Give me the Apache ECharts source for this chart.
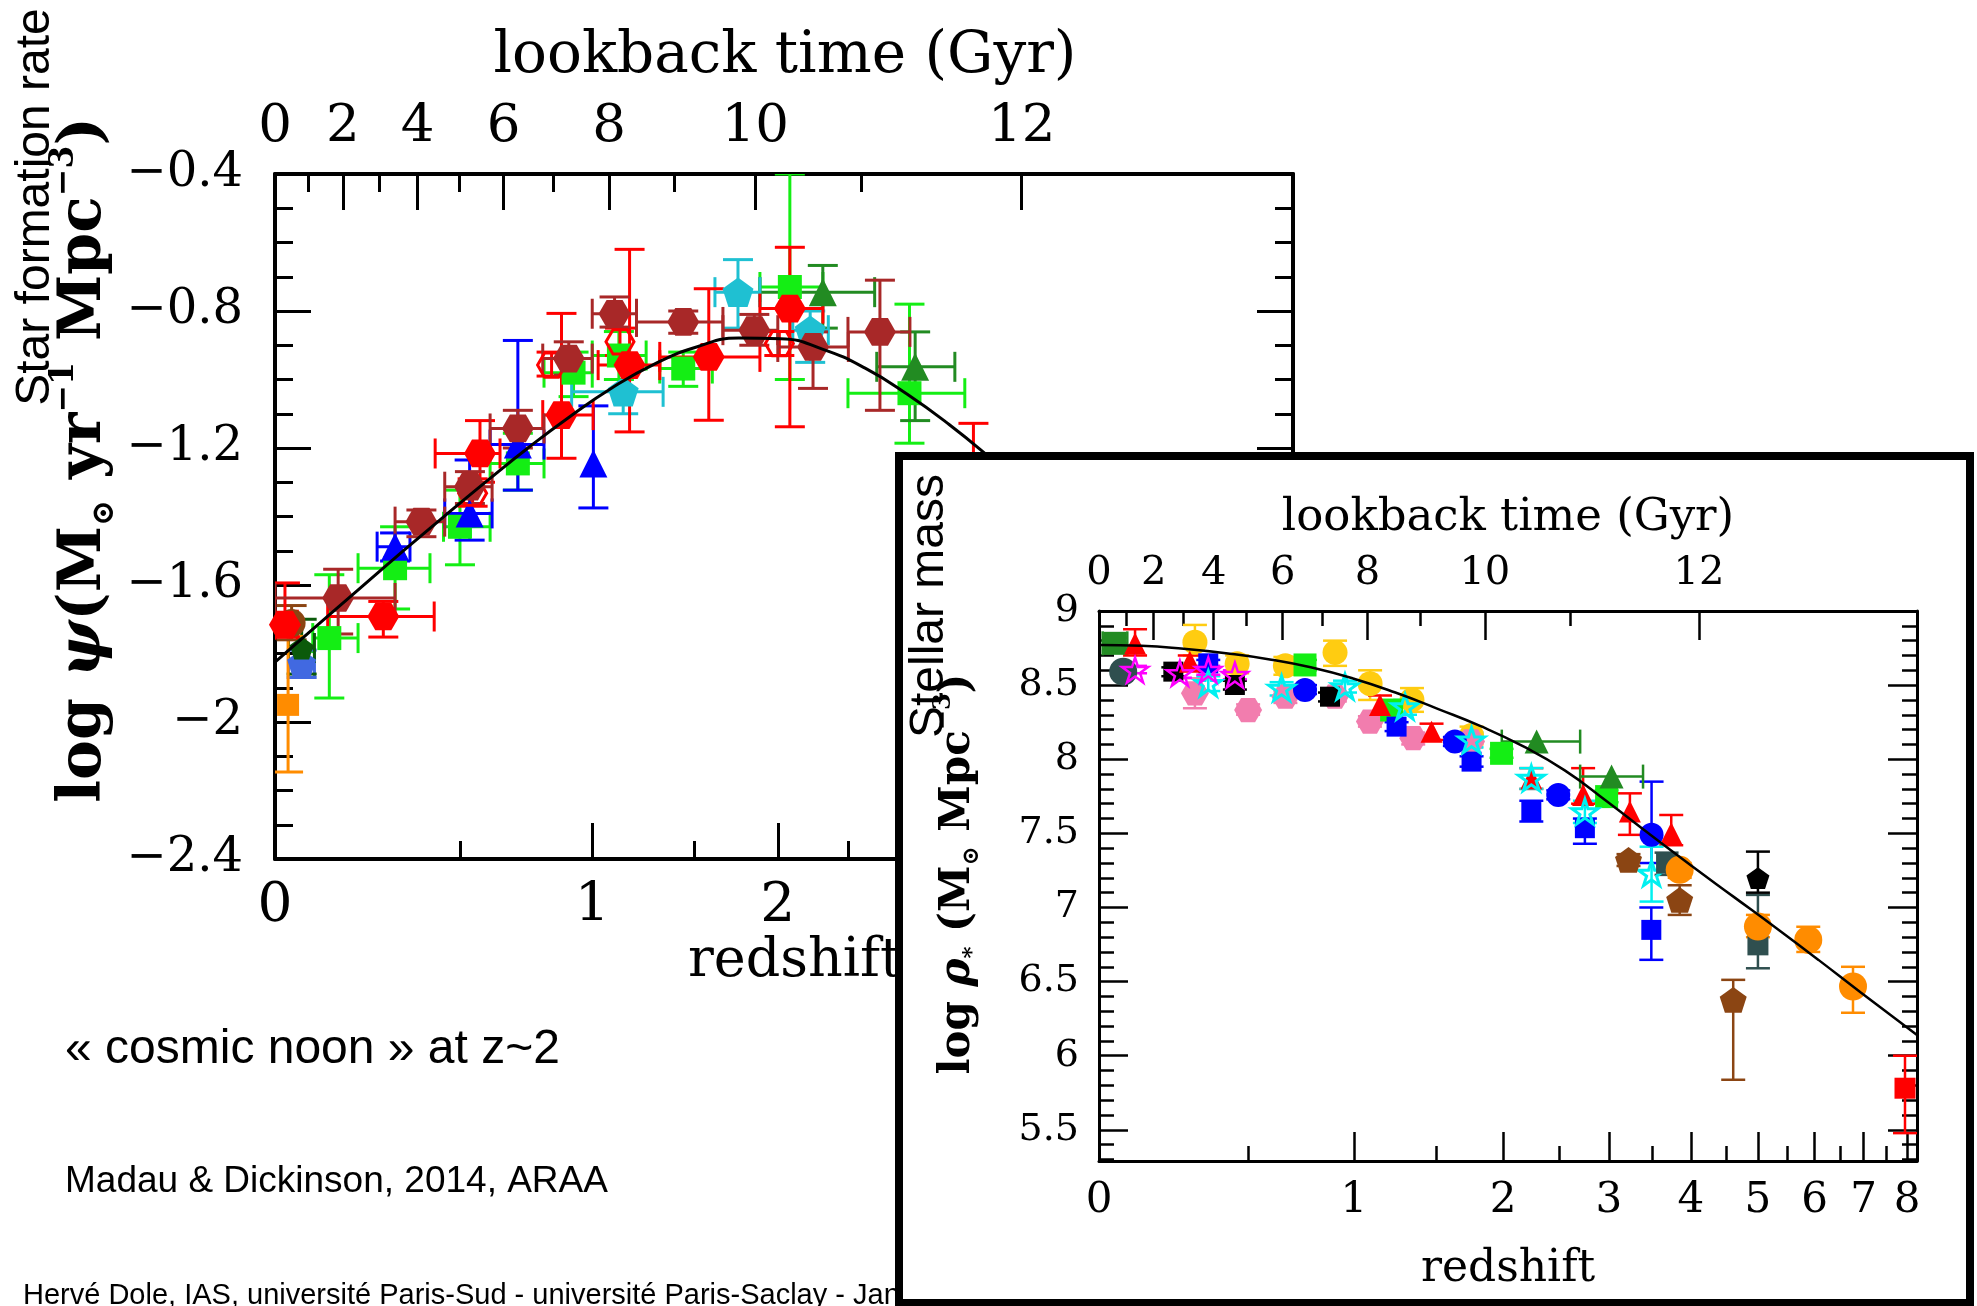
<!DOCTYPE html>
<html><head><meta charset="utf-8">
<script src="https://cdn.jsdelivr.net/npm/echarts@6/dist/echarts.min.js"></script>
<style>html,body{margin:0;padding:0;background:#fff}#c{width:1977px;height:1306px}</style>
</head><body><div id="c"></div>
<script>
// ================= DATA =================
// axis tick definitions
const redshiftLabels = [0, 1, 2, 3, 4, 5, 6, 7, 8];
const redshiftMajorTicks = [1, 2, 3, 4, 5, 6, 7, 8];
const redshiftMinorTicks = [0.5, 1.5, 2.5, 3.5, 4.5, 5.5, 6.5, 7.5];
const lookbackLabels = [0, 2, 4, 6, 8, 10, 12];
const lookbackMajorTicks = [2, 4, 6, 8, 10, 12];
const lookbackMinorTicks = [1, 3, 5, 7, 9, 11];
const sfrYLabels = [-2.4, -2, -1.6, -1.2, -0.8, -0.4];
const massYLabels = [5.5, 6, 6.5, 7, 7.5, 8, 8.5, 9];

// Star formation rate density: [z, log psi, zLow, zHigh, logLow, logHigh]
const sfrLimeSq = [
  [0.126, -1.755, 0.086, 0.199, -1.93, -1.57],
  [0.30, -1.551, 0.199, 0.403, -1.67, -1.43],
  [0.498, -1.43, 0.445, 0.60, -1.541, -1.323],
  [0.70, -1.245, 0.60, 0.80, -1.323, -1.157],
  [0.92, -0.98, 0.80, 1.0, -1.05, -0.92],
  [1.12, -0.93, 1.0, 1.25, -1.0, -0.86],
  [1.44, -0.968, 1.318, 1.60, -1.02, -0.92],
  [2.08, -0.73, 1.885, 2.311, -1.0, -0.4],
  [3.0, -1.04, 2.497, 3.514, -1.186, -0.78]
];
const sfrForestTri = [
  [2.31, -0.745, 1.885, 2.707, -0.85, -0.667],
  [3.05, -0.963, 2.724, 3.417, -1.12, -0.861]
];
const sfrBlueTri = [
  [0.30, -1.488, 0.25, 0.343, -1.53, -1.448],
  [0.53, -1.391, 0.449, 0.607, -1.469, -1.235],
  [0.70, -1.19, 0.60, 0.80, -1.323, -0.886],
  [1.005, -1.245, 1.005, 1.005, -1.375, -1.077]
];
const sfrCyanPent = [
  [1.14, -1.036, 0.912, 1.335, -1.10, -0.95],
  [1.75, -0.745, 1.615, 1.885, -0.85, -0.65],
  [2.22, -0.856, 2.10, 2.35, -0.95, -0.80]
];
const sfrRoyalPent = [[0.06, -1.828, 0.03, 0.09, -1.87, -1.79]];
const sfrDarkGreenPent = [[0.06, -1.784, 0.03, 0.09, -1.86, -1.70]];
const sfrOrangeSq = [[0.029, -1.95, 0.029, 0.029, -2.146, -1.75]];
const sfrBrownCircle = [[0.037, -1.711, 0.037, 0.037, -1.76, -1.66]];
const sfrRedHex = [
  [0.022, -1.716, 0.0, 0.05, -1.752, -1.594],
  [0.267, -1.692, 0.122, 0.416, -1.752, -1.648],
  [0.565, -1.216, 0.419, 0.635, -1.30, -1.12],
  [0.87, -1.104, 0.795, 1.004, -1.23, -0.807],
  [1.17, -0.958, 1.026, 1.318, -1.153, -0.62],
  [1.58, -0.934, 1.318, 1.885, -1.119, -0.735],
  [2.08, -0.793, 1.885, 2.311, -1.138, -0.614],
  [3.6, -1.33, 3.3, 3.9, -1.53, -1.128]
];
const sfrRedOpenHex = [
  [0.54, -1.332, 0.54, 0.54, -1.37, -1.29],
  [0.83, -0.958, 0.83, 0.83, -0.99, -0.92],
  [1.125, -0.89, 1.125, 1.125, -0.93, -0.85],
  [2.01, -0.895, 2.01, 2.01, -0.93, -0.86]
];
const sfrBrownHex = [
  [0.148, -1.638, 0.0, 0.30, -1.743, -1.554],
  [0.377, -1.415, 0.30, 0.449, -1.459, -1.381],
  [0.531, -1.313, 0.449, 0.607, -1.362, -1.269],
  [0.70, -1.143, 0.60, 0.80, -1.20, -1.09],
  [0.90, -0.939, 0.795, 1.0, -0.987, -0.89],
  [1.10, -0.808, 1.0, 1.203, -0.847, -0.759],
  [1.44, -0.832, 1.203, 1.661, -0.865, -0.80],
  [1.85, -0.856, 1.661, 2.0, -0.90, -0.81],
  [2.24, -0.905, 2.0, 2.5, -1.026, -0.861],
  [2.75, -0.861, 2.497, 3.004, -1.09, -0.71]
];
// best-fit SFR curve, x = log10(1+z)
const sfrCurveX = [0, 0.04, 0.08, 0.12, 0.16, 0.2, 0.24, 0.28, 0.32, 0.36, 0.4, 0.44, 0.48, 0.52, 0.56, 0.6, 0.64, 0.68, 0.72, 0.76, 0.8, 0.84, 0.88, 0.92, 0.966];
const sfrCurveY = [-1.825, -1.718, -1.611, -1.505, -1.401, -1.299, -1.200, -1.108, -1.024, -0.955, -0.905, -0.879, -0.881, -0.912, -0.967, -1.043, -1.132, -1.232, -1.338, -1.448, -1.560, -1.674, -1.789, -1.904, -2.040];

// Stellar mass density: [z, log rho, zLow, zHigh, logLow, logHigh] or [z, log rho, logLow, logHigh]
const massForestSq = [[0.044, 8.782, 0.01, 0.08, 8.74, 8.82]];
const massDarkSlateCircle = [[0.068, 8.591, 8.55, 8.63]];
const massGoldCircle = [
  [0.298, 8.79, 8.70, 8.906], [0.456, 8.644, 8.58, 8.70], [0.66, 8.63, 8.57, 8.69],
  [0.90, 8.72, 8.63, 8.80], [1.09, 8.51, 8.40, 8.60], [1.342, 8.40, 8.32, 8.48], [1.754, 8.16, 8.10, 8.22]
];
const massPinkHex = [
  [0.298, 8.445, 8.344, 8.546], [0.50, 8.332, 8.30, 8.37], [0.66, 8.422, 8.38, 8.46],
  [0.899, 8.422, 8.39, 8.46], [1.089, 8.254, 8.22, 8.29], [1.35, 8.142, 8.10, 8.18], [1.75, 8.12, 8.08, 8.16]
];
const massBlackSq = [[0.224, 8.591, 8.56, 8.62], [0.447, 8.501, 8.47, 8.53], [0.874, 8.422, 8.39, 8.45]];
const massLimeSq = [[0.751, 8.636, 8.60, 8.67], [1.216, 8.332, 8.30, 8.36], [1.988, 8.04, 8.01, 8.07], [2.976, 7.748, 7.71, 7.79]];
const massBlueSq = [
  [0.346, 8.647, 8.62, 8.67], [1.246, 8.22, 8.19, 8.25], [1.754, 7.984, 7.95, 8.02],
  [2.24, 7.647, 7.58, 7.72], [2.748, 7.535, 7.43, 7.60], [3.49, 6.849, 6.647, 7.0]
];
const massBlueCircle = [[0.751, 8.467, 8.44, 8.50], [1.632, 8.119, 8.09, 8.15], [2.486, 7.759, 7.73, 7.79], [3.493, 7.49, 7.30, 7.849]];
const massRedTri = [
  [0.103, 8.78, 8.70, 8.877], [0.28, 8.658, 8.60, 8.70], [1.147, 8.366, 8.30, 8.43], [1.47, 8.186, 8.13, 8.24],
  [2.24, 7.87, 7.80, 7.94], [2.73, 7.759, 7.70, 7.94], [3.236, 7.647, 7.49, 7.77], [3.74, 7.501, 7.42, 7.624]
];
const massCyanStar = [
  [0.346, 8.512, 8.46, 8.56], [0.643, 8.479, 8.43, 8.52], [0.952, 8.49, 8.45, 8.53], [1.298, 8.355, 8.30, 8.40],
  [1.754, 8.13, 8.08, 8.18], [2.24, 7.872, 7.80, 7.94], [2.748, 7.647, 7.57, 7.72], [3.493, 7.231, 7.04, 7.41]
];
const massMagentaStar = [[0.103, 8.602, 8.58, 8.63], [0.246, 8.58, 8.55, 8.61], [0.346, 8.602, 8.57, 8.63], [0.447, 8.568, 8.54, 8.60]];
const massForestTri = [[2.287, 8.119, 1.99, 2.70, 8.119, 8.119], [3.03, 7.883, 2.70, 3.39, 7.883, 7.883]];
const massBrownPent = [[3.22, 7.321, 7.28, 7.36], [3.85, 7.051, 6.95, 7.15], [4.61, 6.377, 5.838, 6.512]];
const massDarkSlateSq = [[3.68, 7.299, 7.22, 7.37], [5.0, 6.748, 6.59, 7.085]];
const massOrangeCircle = [[3.85, 7.254, 7.20, 7.30], [5.0, 6.871, 6.80, 6.95], [5.88, 6.781, 6.70, 6.87], [6.77, 6.467, 6.29, 6.60]];
const massBlackPent = [[5.0, 7.198, 7.10, 7.377]];
const massRedSq = [[7.95, 5.781, 5.478, 6.0]];
// model curve, x = log10(1+z)
const massCurveX = [0, 0.05, 0.1, 0.15, 0.2, 0.25, 0.3, 0.35, 0.4, 0.45, 0.5, 0.55, 0.6, 0.65, 0.7, 0.75, 0.8, 0.85, 0.9, 0.966];
const massCurveY = [8.77, 8.765, 8.745, 8.715, 8.675, 8.62, 8.545, 8.45, 8.34, 8.225, 8.09, 7.925, 7.715, 7.495, 7.28, 7.07, 6.86, 6.645, 6.425, 6.14];

// ================= HELPERS =================
const XMAX = 0.966;
const FONT = '"DejaVu Serif", serif';
const SANS = '"Liberation Sans", Arial, sans-serif';
const U = z => Math.log10(1 + z);
// lookback time (Gyr) -> log10(1+z), flat LCDM H0=70, Om=0.3
const H0inv = 977.8 / 70, Om = 0.3, OL = 0.7;
const tH = 2 / (3 * Math.sqrt(OL)) * H0inv, A = Math.sqrt(OL / Om), t0 = tH * Math.asinh(A);
const LB = T => Math.log10(Math.pow(A / Math.sinh((t0 - T) / tH), 2 / 3));
const nearest = (list, conv) => v => { let b = list[0], d = 1e9; list.forEach(L => { const e = Math.abs(conv(L) - v); if (e < d) { d = e; b = L; } }); return String(b); };
const fmtY = v => (Math.round(v * 10) / 10).toString().replace('-', '\u2212');

const sfrMinorY = []; for (let k = -23; k <= -5; k++) if (k % 4 !== 0) sfrMinorY.push(k / 10);
const massMinorY = []; for (let k = 53; k <= 89; k++) if (k % 5 !== 0) massMinorY.push(k / 10);

function axX(g, pos, ticks, len, tw, lw, labels, fmt, size, margin) {
  return {
    type: 'value', gridIndex: g, position: pos, min: 0, max: XMAX, zlevel: g ? 2 : 0,
    splitLine: { show: false },
    axisLine: { show: lw > 0, onZero: false, lineStyle: { color: '#000', width: lw || 1 } },
    axisTick: { show: true, inside: true, length: len, customValues: ticks, lineStyle: { color: '#000', width: tw } },
    axisLabel: labels ? { show: true, customValues: labels, formatter: fmt, fontSize: size, fontFamily: FONT, color: '#000', margin: margin } : { show: false }
  };
}
function axY(g, pos, min, max, ticks, len, tw, lw, labels, size, margin) {
  return {
    type: 'value', gridIndex: g, position: pos, min: min, max: max, zlevel: g ? 2 : 0,
    splitLine: { show: false },
    axisLine: { show: lw > 0, onZero: false, lineStyle: { color: '#000', width: lw || 1 } },
    axisTick: { show: true, inside: true, length: len, customValues: ticks, lineStyle: { color: '#000', width: tw } },
    axisLabel: labels ? { show: true, customValues: labels, formatter: fmtY, fontSize: size, fontFamily: FONT, color: '#000', margin: margin } : { show: false }
  };
}

const HEX = 'path://M-10,0L-5,-8.66L5,-8.66L10,0L5,8.66L-5,8.66Z';
const PENT = 'path://M0,-10L9.511,-3.09L5.878,8.09L-5.878,8.09L-9.511,-3.09Z';
const STAR = 'path://M0,-10L2.245,-3.09L9.511,-3.09L3.633,1.18L5.878,8.09L0,3.82L-5.878,8.09L-3.633,1.18L-9.511,-3.09L-2.245,-3.09Z';

function errRender(color, cap, lw) {
  return (params, api) => {
    const x = api.value(0), y = api.value(1);
    const c = api.coord([x, y]);
    const xl = api.coord([api.value(2), y])[0], xr = api.coord([api.value(3), y])[0];
    const yb = api.coord([x, api.value(4)])[1], yt = api.coord([x, api.value(5)])[1];
    const st = { stroke: color, lineWidth: lw };
    const ch = [];
    if (Math.abs(xr - xl) > 1) {
      ch.push({ type: 'line', shape: { x1: xl, y1: c[1], x2: xr, y2: c[1] }, style: st });
      ch.push({ type: 'line', shape: { x1: xl, y1: c[1] - cap, x2: xl, y2: c[1] + cap }, style: st });
      ch.push({ type: 'line', shape: { x1: xr, y1: c[1] - cap, x2: xr, y2: c[1] + cap }, style: st });
    }
    if (Math.abs(yb - yt) > 1) {
      ch.push({ type: 'line', shape: { x1: c[0], y1: yt, x2: c[0], y2: yb }, style: st });
      ch.push({ type: 'line', shape: { x1: c[0] - cap, y1: yt, x2: c[0] + cap, y2: yt }, style: st });
      ch.push({ type: 'line', shape: { x1: c[0] - cap, y1: yb, x2: c[0] + cap, y2: yb }, style: st });
    }
    return { type: 'group', children: ch };
  };
}
const series = [];
function addSet(data, o) {
  const d = data.map(p => {
    let q = p;
    if (p.length === 4) q = [p[0], p[1], p[0], p[0], p[2], p[3]];
    if (p.length === 2) q = [p[0], p[1], p[0], p[0], p[1], p[1]];
    return [U(q[0]), q[1], U(q[2]), U(q[3]), q[4], q[5]];
  });
  const ax = o.right ? 4 : 0, zl = o.right ? 2 : 0;
  series.push({ type: 'custom', xAxisIndex: ax, yAxisIndex: ax, zlevel: zl, z: 2, clip: true, silent: true,
    renderItem: errRender(o.color, o.right ? 12 : 15, o.right ? 2.5 : 3), data: d, encode: { x: 0, y: 1 } });
  series.push({ type: 'scatter', xAxisIndex: ax, yAxisIndex: ax, zlevel: zl, z: 2, clip: true, silent: true,
    symbol: o.symbol, symbolSize: o.size, symbolKeepAspect: true,
    itemStyle: o.open ? { color: 'rgba(0,0,0,0)', borderColor: o.color, borderWidth: o.bw || 2.5, opacity: 1 } : { color: o.color, opacity: 1 },
    data: d.map(p => [p[0], p[1]]) });
}

// left: SFR
addSet(sfrLimeSq, { color: '#14EE14', symbol: 'rect', size: 24 });
addSet(sfrForestTri, { color: '#228B22', symbol: 'triangle', size: 28 });
addSet(sfrBlueTri, { color: '#0000FF', symbol: 'triangle', size: 28 });
addSet(sfrCyanPent, { color: '#1FC0D2', symbol: PENT, size: 31 });
addSet(sfrRoyalPent, { color: '#4169E1', symbol: PENT, size: 29 });
addSet(sfrDarkGreenPent, { color: '#0B5A0B', symbol: PENT, size: 24 });
addSet(sfrOrangeSq, { color: '#FF8C00', symbol: 'rect', size: 22 });
addSet(sfrBrownCircle, { color: '#8B4513', symbol: 'circle', size: 28 });
addSet(sfrRedHex, { color: '#FF0000', symbol: HEX, size: 32 });
addSet(sfrRedOpenHex, { color: '#FF0000', symbol: HEX, size: 28, open: true, bw: 3 });
addSet(sfrBrownHex, { color: '#A82828', symbol: HEX, size: 32 });
series.push({ type: 'line', xAxisIndex: 0, yAxisIndex: 0, zlevel: 0, z: 5, silent: true, symbol: 'none', smooth: true,
  lineStyle: { color: '#000', width: 3 }, data: sfrCurveX.map((x, i) => [x, sfrCurveY[i]]) });

// right: stellar mass
addSet(massForestSq, { right: 1, color: '#228B22', symbol: 'rect', size: 23 });
addSet(massDarkSlateCircle, { right: 1, color: '#2F4F4F', symbol: 'circle', size: 28 });
addSet(massGoldCircle, { right: 1, color: '#FFCC11', symbol: 'circle', size: 25 });
addSet(massPinkHex, { right: 1, color: '#F27DAE', symbol: HEX, size: 28 });
addSet(massBlackSq, { right: 1, color: '#000000', symbol: 'rect', size: 20 });
addSet(massLimeSq, { right: 1, color: '#14EE14', symbol: 'rect', size: 23 });
addSet(massBlueSq, { right: 1, color: '#0000FF', symbol: 'rect', size: 20 });
addSet(massBlueCircle, { right: 1, color: '#0000FF', symbol: 'circle', size: 24 });
addSet(massRedTri, { right: 1, color: '#FF0000', symbol: 'triangle', size: 22 });
addSet(massCyanStar, { right: 1, color: '#00F0F0', symbol: STAR, size: 26, open: true, bw: 3 });
addSet(massMagentaStar, { right: 1, color: '#FF00FF', symbol: STAR, size: 26, open: true, bw: 2.5 });
addSet(massForestTri, { right: 1, color: '#228B22', symbol: 'triangle', size: 24 });
addSet(massBrownPent, { right: 1, color: '#8B4513', symbol: PENT, size: 27 });
addSet(massDarkSlateSq, { right: 1, color: '#2F4F4F', symbol: 'rect', size: 21 });
addSet(massOrangeCircle, { right: 1, color: '#FF8C00', symbol: 'circle', size: 28 });
addSet(massBlackPent, { right: 1, color: '#000000', symbol: PENT, size: 23 });
addSet(massRedSq, { right: 1, color: '#FF0000', symbol: 'rect', size: 21 });
series.push({ type: 'line', xAxisIndex: 4, yAxisIndex: 4, zlevel: 2, z: 5, silent: true, symbol: 'none', smooth: true,
  lineStyle: { color: '#000', width: 2.5 }, data: massCurveX.map((x, i) => [x, massCurveY[i]]) });

const zFmt = nearest(redshiftLabels, U);
const tFmt = nearest(lookbackLabels, LB);

const option = {
  backgroundColor: '#fff',
  animation: false,
  grid: [
    { left: 275, top: 174, width: 1018, height: 685 },
    { left: 1099, top: 611, width: 818, height: 550 }
  ],
  xAxis: [
    axX(0, 'bottom', redshiftMajorTicks.map(U), 36, 3, 4, redshiftLabels.map(U), zFmt, 55, 20),
    axX(0, 'bottom', redshiftMinorTicks.map(U), 18, 3, 0),
    axX(0, 'top', lookbackMajorTicks.map(LB), 36, 3, 4, lookbackLabels.map(LB), tFmt, 53, 20),
    axX(0, 'top', lookbackMinorTicks.map(LB), 18, 3, 0),
    axX(1, 'bottom', redshiftMajorTicks.map(U), 29, 2.5, 3, redshiftLabels.map(U), zFmt, 42, 19),
    axX(1, 'bottom', redshiftMinorTicks.map(U), 15, 2.5, 0),
    axX(1, 'top', lookbackMajorTicks.map(LB), 29, 2.5, 3, lookbackLabels.map(LB), tFmt, 40, 17),
    axX(1, 'top', lookbackMinorTicks.map(LB), 15, 2.5, 0)
  ],
  yAxis: [
    axY(0, 'left', -2.4, -0.4, sfrYLabels, 36, 3, 4, sfrYLabels, 48, 32),
    axY(0, 'left', -2.4, -0.4, sfrMinorY, 18, 3, 0),
    axY(0, 'right', -2.4, -0.4, sfrYLabels, 36, 3, 4),
    axY(0, 'right', -2.4, -0.4, sfrMinorY, 18, 3, 0),
    axY(1, 'left', 5.29, 9, massYLabels, 29, 2.5, 3, massYLabels, 38, 20),
    axY(1, 'left', 5.29, 9, massMinorY, 15, 2.5, 0),
    axY(1, 'right', 5.29, 9, massYLabels, 29, 2.5, 3),
    axY(1, 'right', 5.29, 9, massMinorY, 15, 2.5, 0)
  ],
  series: series,
  graphic: [
    { type: 'text', zlevel: 0, x: 785, y: 57, silent: true,
      style: { text: 'lookback time (Gyr)', fontSize: 58, fontFamily: FONT, fill: '#000', align: 'center', verticalAlign: 'middle' } },
    { type: 'text', zlevel: 0, x: 688, y: 962, silent: true,
      style: { text: 'redshift', fontSize: 54, fontFamily: FONT, fill: '#000', align: 'left', verticalAlign: 'middle' } },
    { type: 'text', zlevel: 0, x: 84, y: 460, rotation: Math.PI / 2, silent: true,
      style: { text: '{a|log }{i|\u03C8}{a|(M}{s|\u2299}{a| yr}{p|\u22121}{a| Mpc}{p|\u22123}{a|)}', align: 'center', verticalAlign: 'middle',
        rich: {
          a: { fontSize: 60, fontFamily: FONT, fontWeight: 'bold', fill: '#000', lineHeight: 72 },
          i: { fontSize: 60, fontFamily: FONT, fontWeight: 'bold', fontStyle: 'italic', fill: '#000', lineHeight: 72 },
          s: { fontSize: 31, fontFamily: FONT, fontWeight: 'bold', fill: '#000', lineHeight: 72, verticalAlign: 'bottom' },
          p: { fontSize: 33, fontFamily: FONT, fontWeight: 'bold', fill: '#000', lineHeight: 72, verticalAlign: 'top' }
        } } },
    { type: 'text', zlevel: 0, x: 36, y: 207, rotation: Math.PI / 2, silent: true,
      style: { text: 'Star formation rate', fontSize: 48, fontFamily: SANS, fill: '#000', align: 'center', verticalAlign: 'middle' } },
    { type: 'text', zlevel: 0, x: 65, y: 1050, silent: true,
      style: { text: '\u00AB cosmic noon \u00BB at z~2', fontSize: 48, fontFamily: SANS, fill: '#000', align: 'left', verticalAlign: 'middle' } },
    { type: 'text', zlevel: 0, x: 65, y: 1182, silent: true,
      style: { text: 'Madau & Dickinson, 2014, ARAA', fontSize: 37, fontFamily: SANS, fill: '#000', align: 'left', verticalAlign: 'middle' } },
    { type: 'text', zlevel: 0, x: 23, y: 1296, silent: true,
      style: { text: 'Herv\u00E9 Dole, IAS, universit\u00E9 Paris-Sud - universit\u00E9 Paris-Saclay - Jan', fontSize: 29, fontFamily: SANS, fill: '#000', align: 'left', verticalAlign: 'middle' } },
    // inset frame
    { type: 'rect', zlevel: 1, silent: true, shape: { x: 899, y: 456, width: 1071, height: 847 },
      style: { fill: '#fff', stroke: '#000', lineWidth: 8 } },
    { type: 'text', zlevel: 2, x: 1508, y: 518, silent: true,
      style: { text: 'lookback time (Gyr)', fontSize: 45, fontFamily: FONT, fill: '#000', align: 'center', verticalAlign: 'middle' } },
    { type: 'text', zlevel: 2, x: 1508, y: 1270, silent: true,
      style: { text: 'redshift', fontSize: 44, fontFamily: FONT, fill: '#000', align: 'center', verticalAlign: 'middle' } },
    { type: 'text', zlevel: 2, x: 958, y: 874, rotation: Math.PI / 2, silent: true,
      style: { text: '{a|log }{i|\u03C1}{s|*}{a| (M}{s|\u2299}{a| Mpc}{p|\u22123}{a|)}', align: 'center', verticalAlign: 'middle',
        rich: {
          a: { fontSize: 42, fontFamily: FONT, fontWeight: 'bold', fill: '#000', lineHeight: 52 },
          i: { fontSize: 42, fontFamily: FONT, fontWeight: 'bold', fontStyle: 'italic', fill: '#000', lineHeight: 52 },
          s: { fontSize: 23, fontFamily: FONT, fontWeight: 'bold', fill: '#000', lineHeight: 52, verticalAlign: 'bottom' },
          p: { fontSize: 24, fontFamily: FONT, fontWeight: 'bold', fill: '#000', lineHeight: 52, verticalAlign: 'top' }
        } } },
    { type: 'text', zlevel: 3, x: 930, y: 606, rotation: Math.PI / 2, silent: true,
      style: { text: 'Stellar mass', fontSize: 48, fontFamily: SANS, fill: '#000', align: 'center', verticalAlign: 'middle' } }
  ]
};
const chart = echarts.init(document.getElementById('c'), null, { renderer: 'canvas' });
chart.setOption(option);
</script>
</body></html>
